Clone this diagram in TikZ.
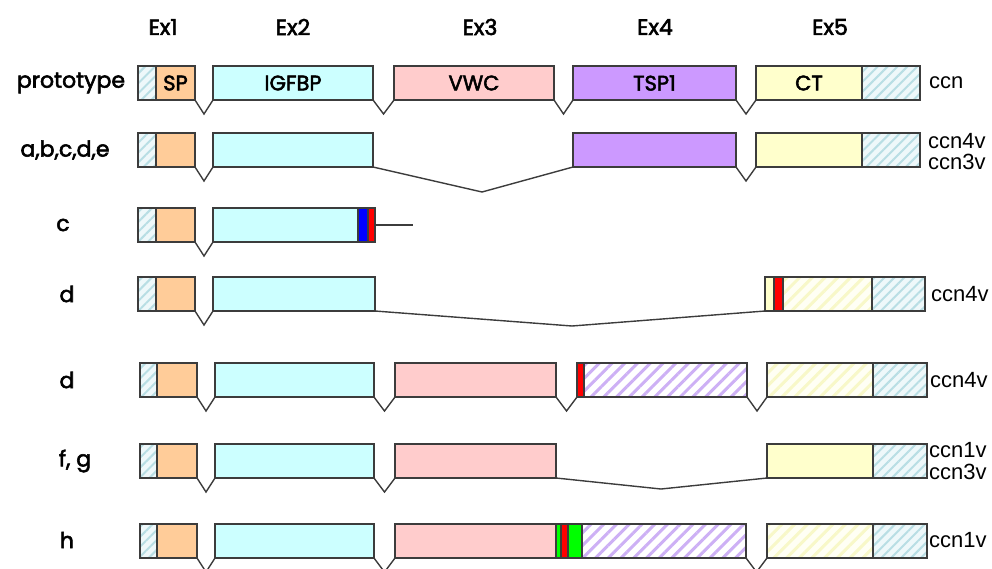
\documentclass[tikz,border=0pt]{standalone}
\usepackage{fontspec}
\setmainfont{Poppins}
\newfontfamily\labfont{Poppins}[FakeBold=2.5]
\newfontfamily\arialf{Liberation Sans}
\usetikzlibrary{patterns.meta,calc}
\definecolor{bordercol}{HTML}{3C3C3C}
\definecolor{hbbg}{HTML}{EEF8FA}
\definecolor{hbline}{HTML}{B8DEE4}
\definecolor{spcol}{HTML}{FFCC99}
\definecolor{igfcol}{HTML}{CCFFFF}
\definecolor{vwccol}{HTML}{FFCCCC}
\definecolor{tspcol}{HTML}{CC99FF}
\definecolor{ctcol}{HTML}{FFFFCC}
\definecolor{hpline}{HTML}{CDB0F5}
\definecolor{hybg}{HTML}{FFFFF4}
\definecolor{hyline}{HTML}{F8F8C8}
\definecolor{redbar}{HTML}{FF0000}
\definecolor{bluebar}{HTML}{0000FF}
\definecolor{greenbar}{HTML}{00FF00}
\tikzset{
  exbox/.style={draw=bordercol, line width=1.3pt, inner sep=0pt, outer sep=0pt,
    minimum height=34pt, font=\labfont\fontsize{21}{23}\selectfont},
  hatchblue/.style={preaction={fill=hbbg}, pattern={Lines[angle=45,distance=7pt,line width=2pt]}, pattern color=hbline},
  hatchpurple/.style={preaction={fill=white}, pattern={Lines[angle=45,distance=9pt,line width=3pt]}, pattern color=hpline},
  hatchyellow/.style={preaction={fill=hybg}, pattern={Lines[angle=45,distance=9pt,line width=3pt]}, pattern color=hyline},
  conn/.style={draw=bordercol, line width=1.4pt},
  lab/.style={font=\labfont\fontsize{22}{24}\selectfont, anchor=center, inner sep=0pt},
  rlab/.style={font=\arialf\fontsize{22}{24}\selectfont, anchor=west, inner sep=0pt},
}
\newcommand{\exon}[6]{\node[exbox,#5,minimum width={#3pt-#2pt}] (#1) at ({(#2+#3)/2},{#4+17}) {#6};}
\newcommand{\vnotch}[2]{\draw[conn] (#1.south east) -- ($(#1.south east)!0.5!(#2.south west)+(0,14)$) -- (#2.south west);}
\begin{document}
\begin{tikzpicture}[x=1pt,y=-1pt]
\useasboundingbox (0,0) rectangle (992,568);
% exon headers
\node[lab] (h1) at (163,27) {Ex1};
\node[lab] (h2) at (293,27) {Ex2};
\node[lab] (h3) at (480,27) {Ex3};
\node[lab] (h4) at (655,27) {Ex4};
\node[lab] (h5) at (830,27) {Ex5};
% left labels
\node[lab] (l1) at (71,83) {prototype};
\node[lab] (l2) at (65,150) {a,b,c,d,e};
\node[lab] (l3) at (63,225) {c};
\node[lab] (l4) at (67,294) {d};
\node[lab] (l5) at (67,380) {d};
\node[lab] (l6) at (75,461) {f, g};
\node[lab] (l7) at (67,540) {h};
% right labels
\node[rlab] (r1) at (929,83) {ccn};
\node[rlab] (r2a) at (928,141) {ccn4v};
\node[rlab] (r2b) at (928,162) {ccn3v};
\node[rlab] (r4) at (931,294) {ccn4v};
\node[rlab] (r5) at (930,380) {ccn4v};
\node[rlab] (r6a) at (929,450) {ccn1v};
\node[rlab] (r6b) at (929,472) {ccn3v};
\node[rlab] (r7) at (929,540) {ccn1v};
% row 1 prototype
\exon{a0}{138}{156}{66}{hatchblue}{}
\exon{a1}{156}{195}{66}{fill=spcol}{SP}
\exon{a2}{213}{373}{66}{fill=igfcol}{IGFBP}
\exon{a3}{394}{554}{66}{fill=vwccol}{VWC}
\exon{a4}{573}{736}{66}{fill=tspcol}{TSP1}
\exon{a5}{756}{862}{66}{fill=ctcol}{CT}
\exon{a6}{862}{920}{66}{hatchblue}{}
\vnotch{a1}{a2}\vnotch{a2}{a3}\vnotch{a3}{a4}\vnotch{a4}{a5}
% row 2
\exon{b0}{138}{156}{133}{hatchblue}{}
\exon{b1}{156}{195}{133}{fill=spcol}{}
\exon{b2}{213}{373}{133}{fill=igfcol}{}
\exon{b4}{573}{736}{133}{fill=tspcol}{}
\exon{b5}{756}{862}{133}{fill=ctcol}{}
\exon{b6}{862}{920}{133}{hatchblue}{}
\vnotch{b1}{b2}\vnotch{b4}{b5}
\coordinate (b24) at (482,192);
\draw[conn] (b2.south east) -- (b24) -- (b4.south west);
% row 3
\exon{c0}{138}{156}{208}{hatchblue}{}
\exon{c1}{156}{195}{208}{fill=spcol}{}
\exon{c2}{213}{358}{208}{fill=igfcol}{}
\exon{c2b}{358}{368}{208}{fill=bluebar}{}
\exon{c2r}{368}{375}{208}{fill=redbar}{}
\vnotch{c1}{c2}
\coordinate (cend) at (413,225);
\draw[conn] (c2r.east) -- (cend);
% row 4
\exon{d0}{138}{156}{277}{hatchblue}{}
\exon{d1}{156}{195}{277}{fill=spcol}{}
\exon{d2}{213}{375}{277}{fill=igfcol}{}
\exon{d5a}{765}{774}{277}{fill=ctcol}{}
\exon{d5r}{774}{783}{277}{fill=redbar}{}
\exon{d5b}{783}{872}{277}{hatchyellow}{}
\exon{d6}{872}{925}{277}{hatchblue}{}
\vnotch{d1}{d2}
\coordinate (d25) at (572,326);
\draw[conn] (d2.south east) -- (d25) -- (d5a.south west);
% row 5
\exon{e0}{140}{157}{363}{hatchblue}{}
\exon{e1}{157}{197}{363}{fill=spcol}{}
\exon{e2}{215}{374}{363}{fill=igfcol}{}
\exon{e3}{395}{556}{363}{fill=vwccol}{}
\exon{e4r}{577}{584}{363}{fill=redbar}{}
\exon{e4}{584}{747}{363}{hatchpurple}{}
\exon{e5}{767}{873}{363}{hatchyellow}{}
\exon{e6}{873}{927}{363}{hatchblue}{}
\vnotch{e1}{e2}\vnotch{e2}{e3}\vnotch{e3}{e4r}\vnotch{e4}{e5}
% row 6
\exon{f0}{140}{157}{444}{hatchblue}{}
\exon{f1}{157}{197}{444}{fill=spcol}{}
\exon{f2}{215}{374}{444}{fill=igfcol}{}
\exon{f3}{395}{556}{444}{fill=vwccol}{}
\exon{f5}{767}{873}{444}{fill=ctcol}{}
\exon{f6}{873}{927}{444}{hatchblue}{}
\vnotch{f1}{f2}\vnotch{f2}{f3}
\coordinate (f35) at (661,489);
\draw[conn] (f3.south east) -- (f35) -- (f5.south west);
% row 7
\exon{g0}{140}{157}{524}{hatchblue}{}
\exon{g1}{157}{197}{524}{fill=spcol}{}
\exon{g2}{215}{374}{524}{fill=igfcol}{}
\exon{g3}{395}{556}{524}{fill=vwccol}{}
\exon{g3a}{556}{561}{524}{fill=greenbar}{}
\exon{g3b}{561}{568}{524}{fill=redbar}{}
\exon{g3c}{568}{582}{524}{fill=greenbar}{}
\exon{g4}{582}{746}{524}{hatchpurple}{}
\exon{g5}{767}{873}{524}{hatchyellow}{}
\exon{g6}{873}{927}{524}{hatchblue}{}
\vnotch{g1}{g2}\vnotch{g2}{g3}\vnotch{g4}{g5}
\end{tikzpicture}
\end{document}
